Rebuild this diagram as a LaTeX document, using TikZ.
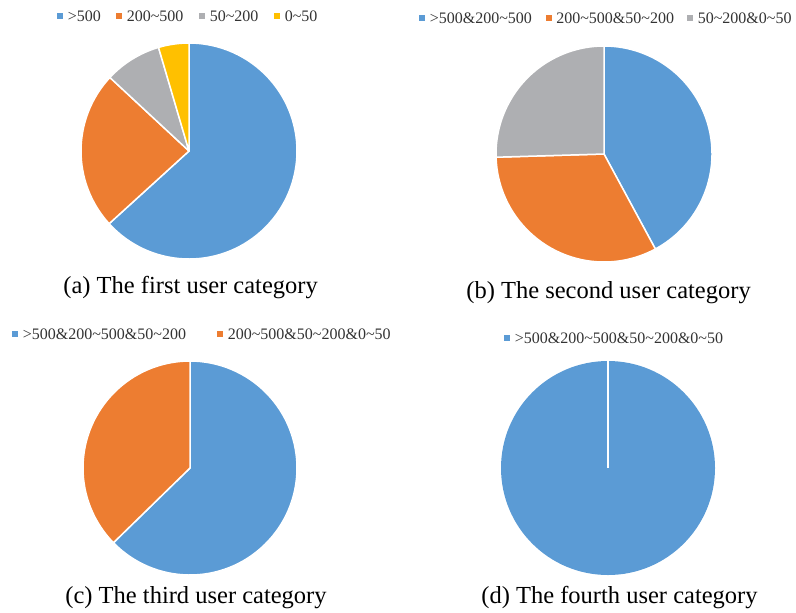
\documentclass[tikz,border=0pt]{standalone}
\usepackage{fontspec}
\setmainfont{Liberation Serif}
\usetikzlibrary{positioning}
\definecolor{blueslice}{HTML}{5B9BD5}
\definecolor{orangeslice}{HTML}{ED7D31}
\definecolor{grayslice}{HTML}{AEAFB2}
\definecolor{yellowslice}{HTML}{FFC000}
\newcommand{\rng}{\textasciitilde}

\begin{document}
\begin{tikzpicture}[x=0.5pt, y=0.5pt,
    slice/.style={draw=white, line width=0.75pt, line join=round},
    legsq/.style={minimum size=3pt, inner sep=0pt},
    legtxt/.style={inner sep=0pt, font=\fontsize{8}{9.6}\selectfont, text=black!80},
    caption/.style={inner sep=0pt, anchor=base west, font=\fontsize{12.25}{14}\selectfont}]
    \useasboundingbox (0, 0) rectangle (796, -612);
    % (a) first category
    \begin{scope}[shift={(189, -151)}]
        \foreach \a/\b/\c in {-137.7/90/blueslice, 137.1/222.3/orangeslice, 106.4/137.1/grayslice, 90/106.4/yellowslice}
            \filldraw[slice, fill=\c] (0, 0) -- (\a:108) arc[start angle=\a, end angle=\b, radius=108] -- cycle;
    \end{scope}
    \node[legsq, fill=blueslice] (sqa1) at (60, -16) {};
    \node[legtxt, right=2pt of sqa1] (lga1) {>500};
    \node[legsq, fill=orangeslice] (sqa2) at (119, -16) {};
    \node[legtxt, right=2pt of sqa2] (lga2) {200\rng500};
    \node[legsq, fill=grayslice] (sqa3) at (202, -16) {};
    \node[legtxt, right=2pt of sqa3] (lga3) {50\rng200};
    \node[legsq, fill=yellowslice] (sqa4) at (277, -16) {};
    \node[legtxt, right=2pt of sqa4] (lga4) {0\rng50};
    \node[caption] (capa) at (63, -293) {(a) The first user category};
    % (b) second category
    \begin{scope}[shift={(604, -154)}]
        \foreach \a/\b/\c in {-61.6/90/blueslice, -178.3/-61.6/orangeslice, 90/181.7/grayslice}
            \filldraw[slice, fill=\c] (0, 0) -- (\a:108) arc[start angle=\a, end angle=\b, radius=108] -- cycle;
    \end{scope}
    \node[legsq, fill=blueslice] (sqb1) at (422, -18) {};
    \node[legtxt, right=2pt of sqb1] (lgb1) {>500\&200\rng500};
    \node[legsq, fill=orangeslice] (sqb2) at (548.5, -18) {};
    \node[legtxt, right=2pt of sqb2] (lgb2) {200\rng500\&50\rng200};
    \node[legsq, fill=grayslice] (sqb3) at (690, -18) {};
    \node[legtxt, right=2pt of sqb3] (lgb3) {50\rng200\&0\rng50};
    \node[caption] (capb) at (466, -298) {(b) The second user category};
    % (c) third category
    \begin{scope}[shift={(190, -468)}]
        \foreach \a/\b/\c in {-135.7/90/blueslice, 90/224.3/orangeslice}
            \filldraw[slice, fill=\c] (0, 0) -- (\a:107) arc[start angle=\a, end angle=\b, radius=107] -- cycle;
    \end{scope}
    \node[legsq, fill=blueslice] (sqc1) at (15, -334) {};
    \node[legtxt, right=2pt of sqc1] (lgc1) {>500\&200\rng500\&50\rng200};
    \node[legsq, fill=orangeslice] (sqc2) at (220, -334) {};
    \node[legtxt, right=2pt of sqc2] (lgc2) {200\rng500\&50\rng200\&0\rng50};
    \node[caption] (capc) at (65, -603) {(c) The third user category};
    % (d) fourth category
    \begin{scope}[shift={(608, -468)}]
        \fill[blueslice] (0, 0) circle[radius=107];
        \draw[white, line width=1pt] (0, 0) -- (90:107);
    \end{scope}
    \node[legsq, fill=blueslice] (sqd1) at (507, -338) {};
    \node[legtxt, right=2pt of sqd1] (lgd1) {>500\&200\rng500\&50\rng200\&0\rng50};
    \node[caption] (capd) at (481, -603) {(d) The fourth user category};
\end{tikzpicture}
\end{document}
